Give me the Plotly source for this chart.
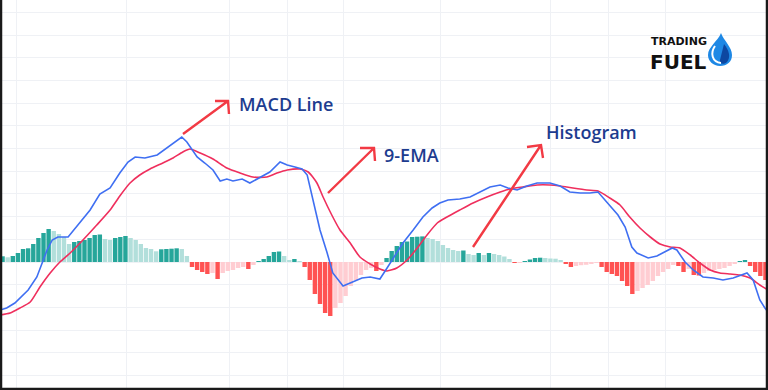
import plotly.graph_objects as go

# ---------------- data (arbitrary units) ----------------
hist_values = [
    5.7, 4.7, 6, 9, 13, 13.7, 18, 24, 29, 33,
    31, 28, 25, 18, 20, 21, 22, 24, 27, 27.5,
    23, 22, 24, 25, 26, 24, 22, 18, 14, 13,
    10.7, 12.7, 13, 13.3, 13.7, 13, 6,
    -5, -8, -10, -12, -11, -17, -11, -9, -8, -6, -5, -7, -3,
    0.5, 3, 6, 10, 10.5, 6, 2, 3, 1,
    -5, -18, -32, -42, -51, -54, -46, -41, -34, -24, -18, -13, -8, -6, -9, -3,
    4, 11, 16, 20, 20.5, 25, 25.3, 25.6, 24, 23, 21, 17, 14, 12, 11, 11.5, 8, 7, 9, 7, 9, 8, 7,
    5.5, 3, -0.5, -0.3, 1, 2.5, 4, 4.3, 4, 3.5, 3.3, 1.5, -2, -5, -4, -3.2, -2.8, -2, -1,
    -5, -10, -12, -14, -19, -24, -32, -29, -26, -23, -19, -14, -10, -7, -3, -4, -10, -7,
    -13, -13.5, -11, -9, -8, -7, -6, -4, -2, 1, 2, -4, -10, -14, -18,
]

macd_x = [-0.5, 0.8, 2.4, 4.0, 5.0, 6.7, 7.7, 8.7, 9.7, 10.8, 12.8, 15.1, 17.1, 19.0, 21.0,
          22.9, 24.5, 25.9, 27.8, 30.2, 32.1, 35.0, 36.0, 37.0, 38.0, 39.5, 41.1, 42.5, 43.8,
          45.0, 46.8, 48.3, 50.3, 52.2, 54.2, 55.6, 57.1, 58.5, 59.5, 60.6, 62.0, 63.4, 64.5,
          66.5, 68.4, 70.2, 71.8, 73.7, 75.1, 76.3, 78.2, 80.2, 82.1, 83.9, 85.4, 87.0, 89.3,
          91.3, 93.3, 95.2, 97.2, 98.7, 100.5, 102.4, 104.4, 106.9, 108.9, 110.8, 112.8, 114.7,
          116.3, 118.1, 120.2, 121.6, 122.9, 123.9, 126.1, 127.8, 129.0, 130.8, 131.7, 133.3,
          134.9, 136.8, 138.8, 140.7, 142.7, 144.4, 145.4, 146.6, 147.9, 148.9, 149.5]
macd_y = [-48, -46, -41, -33, -28, -15, -1, 12, 22, 25, 25, 39, 52, 68, 74,
          89, 100, 105, 104, 107, 114, 125, 120, 112, 105, 99, 92, 81, 83,
          81, 83, 79, 85, 90, 100, 97, 95, 93, 87, 62, 32, 9, -11,
          -24, -20, -16, -15, -17, -6, 4, 19, 32, 45, 54, 59, 62, 63,
          65, 70, 75, 77, 74, 72, 76, 79, 79, 76, 70, 69, 69,
          70, 59, 47, 35, 15, 9, 4, 6, 9, 14, 12, 0,
          -8, -15, -16, -18, -16, -13, -11, -18, -38, -46, -50]

signal_x = [-0.5, 1.5, 3.4, 5.4, 7.3, 9.3, 11.2, 13.2, 15.7, 18.4, 21.0, 22.9, 24.9, 26.8,
            28.8, 31.3, 33.3, 35.2, 36.6, 38.6, 41.1, 43.8, 46.4, 48.9, 51.6, 53.6, 55.6,
            58.1, 59.7, 61.4, 62.6, 64.3, 65.9, 67.9, 69.8, 71.8, 73.7, 75.1, 77.0, 79.0,
            81.0, 82.9, 84.9, 86.8, 89.3, 91.9, 94.6, 97.2, 99.1, 101.6, 104.4, 106.9, 108.9,
            111.4, 114.1, 116.3, 118.6, 120.6, 122.5, 124.5, 126.5, 128.4, 130.4, 132.3,
            134.3, 136.2, 138.2, 140.1, 142.1, 144.0, 146.0, 147.9, 149.5]
signal_y = [-53, -51, -46, -40, -25, -11, 0, 9, 22, 37, 52, 66, 79, 87,
            93, 99, 104, 110, 113, 109, 103, 94, 89, 85, 85, 89, 92,
            93, 90, 79, 65, 47, 32, 19, 5, -2, -7, -9, -6, 2,
            14, 27, 39, 45, 52, 59, 65, 70, 73, 75, 77, 77, 76,
            74, 72, 71, 64, 57, 45, 34, 25, 18, 15, 14,
            7, -1, -8, -11, -12, -13, -16, -23, -28]

grid_x = [2.8, 24.3, 44.4, 55.6, 66.5, 85.6, 107.1, 118.3, 129.4]

labels = ["MACD Line", "9-EMA", "Histogram"]
logo_words = ["TRADING", "FUEL"]

# ---------------- styling ----------------
W, H = 768, 390
DARK_TEAL, LIGHT_TEAL = "#26a69a", "#b2dfdb"
DARK_RED, LIGHT_RED = "#ff5252", "#ffcdd2"
MACD_COLOR, SIGNAL_COLOR = "#3f6ff2", "#ef2f5d"
ARROW_COLOR = "#f23a44"
TEXT_COLOR = "#1d3c8f"
GRID = "#eff1f5"

bar_colors = []
prev = None
for v in hist_values:
    if v >= 0:
        bar_colors.append(DARK_TEAL if prev is None or v > prev else LIGHT_TEAL)
    else:
        bar_colors.append(DARK_RED if prev is None or v < prev else LIGHT_RED)
    prev = v

fig = go.Figure()
fig.add_trace(go.Bar(x=list(range(len(hist_values))), y=hist_values,
                     marker=dict(color=bar_colors, line=dict(width=0)),
                     hoverinfo="skip"))
fig.add_trace(go.Scatter(x=signal_x, y=signal_y, mode="lines",
                         line=dict(color=SIGNAL_COLOR, width=1.6, shape="spline", smoothing=0.6)))
fig.add_trace(go.Scatter(x=macd_x, y=macd_y, mode="lines",
                         line=dict(color=MACD_COLOR, width=1.6)))


def p(x, y):
    return f"{x / W:.5f},{1 - y / H:.5f}"


shapes = []
arrows = [
    ((183, 134), (228, 101), (215, 101), (229, 114)),
    ((328, 193), (374, 148), (360, 148), (375, 161)),
    ((473, 247), (541, 145), (527, 147), (543, 158)),
]
for start, tip, arm1, arm2 in arrows:
    path = f"M{p(*start)} L{p(*tip)} M{p(*arm1)} L{p(*tip)} L{p(*arm2)}"
    shapes.append(dict(type="path", xref="paper", yref="paper", path=path,
                       line=dict(color=ARROW_COLOR, width=2.4)))

# logo drop
drop = (f"M{p(721,33)} C{p(724,41)} {p(732,47)} {p(732,55)} C{p(732,62)} {p(727,66)} {p(720,66)} "
        f"C{p(713,66)} {p(708,61)} {p(708,55)} C{p(708,47)} {p(718,41)} {p(721,33)} Z")
shapes.append(dict(type="path", xref="paper", yref="paper", path=drop,
                   fillcolor="#1e88e5", line=dict(width=0)))
inner = (f"M{p(724,44)} C{p(729,50)} {p(731,57)} {p(727,62)} C{p(724,65)} {p(719,64)} {p(720,60)} Z")
shapes.append(dict(type="path", xref="paper", yref="paper", path=inner,
                   fillcolor="#0d47a1", line=dict(width=0)))
swirl = f"M{p(715,46)} C{p(710,53)} {p(712,62)} {p(721,63)}"
shapes.append(dict(type="path", xref="paper", yref="paper", path=swirl,
                   line=dict(color="white", width=2)))
# frame (left, bottom, right)
frame = f"M{p(1,0)} L{p(1,389)} L{p(767,389)} L{p(767,0)}"
shapes.append(dict(type="path", xref="paper", yref="paper", path=frame,
                   line=dict(color="#1a1a1a", width=2.5)))

annotations = []
label_pos = [(237, 104.5), (382, 155), (544, 131.5)]
for text, (lx, ly) in zip(labels, label_pos):
    annotations.append(dict(text=text, xref="paper", yref="paper", x=lx / W, y=1 - ly / H,
                            xanchor="left", yanchor="middle", showarrow=False,
                            font=dict(family="Open Sans, DejaVu Sans", size=18, color=TEXT_COLOR,
                                      weight=600)))
annotations.append(dict(text=logo_words[0], xref="paper", yref="paper", x=650 / W, y=1 - 48.5 / H,
                        xanchor="left", yanchor="bottom", showarrow=False, borderpad=0,
                        font=dict(family="DejaVu Sans", size=11, color="#111111", weight="bold")))
annotations.append(dict(text=logo_words[1], xref="paper", yref="paper", x=649 / W, y=1 - 48.5 / H,
                        xanchor="left", yanchor="top", showarrow=False, borderpad=0,
                        font=dict(family="DejaVu Sans", size=20, color="#111111", weight="bold")))

fig.update_layout(
    width=W, height=H, margin=dict(l=0, r=0, t=0, b=0),
    plot_bgcolor="white", paper_bgcolor="white",
    showlegend=False, bargap=0.14,
    shapes=shapes, annotations=annotations,
    xaxis=dict(range=[-0.5, 149.5], tickvals=grid_x, showticklabels=False, ticks="",
               showgrid=True, gridcolor=GRID, gridwidth=1, zeroline=False, showline=False),
    yaxis=dict(range=[-128, 262], tick0=0, dtick=22.7, showticklabels=False, ticks="",
               showgrid=True, gridcolor=GRID, gridwidth=1, zeroline=False, showline=False),
)

fig.write_html("out.html", config={"displayModeBar": False},
               post_script="document.body.style.margin='0';")
